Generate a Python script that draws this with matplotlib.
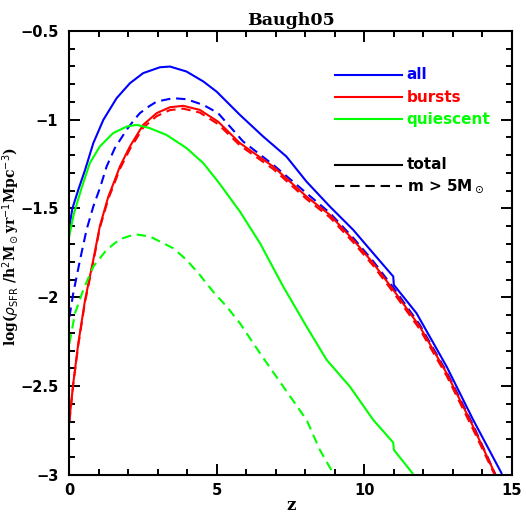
import numpy as np
import matplotlib
matplotlib.use("Agg")
import matplotlib.pyplot as plt
from matplotlib.ticker import MultipleLocator, FuncFormatter

# all (blue) - total and m > 5 Msun
z_all = [0, 0.1, 0.3, 0.53, 0.81, 1.15, 1.6, 2.05, 2.5, 3.07, 3.41, 3.97, 4.54, 4.99,
         5.78, 6.57, 7.36, 8.04, 8.83, 9.62, 10.3, 10.98, 11.0, 11.77, 12.79, 13.69, 14.65]
sfr_all = [-1.60, -1.50, -1.395, -1.283, -1.132, -1.001, -0.879, -0.795, -0.738, -0.705,
           -0.701, -0.729, -0.785, -0.842, -0.973, -1.095, -1.208, -1.349, -1.489, -1.62,
           -1.752, -1.883, -1.93, -2.09, -2.39, -2.69, -2.99]

z_all_m5 = [0, 0.13, 0.36, 0.58, 0.81, 1.05, 1.26, 1.54, 1.94, 2.2, 2.39, 2.7, 2.96, 3.52,
            3.97, 4.54, 5.04, 5.89, 6.91, 8.04, 8.83, 9.62, 10.3, 10.98, 11.88, 12.79,
            13.69, 14.45]
sfr_all_m5 = [-2.11, -1.977, -1.789, -1.62, -1.489, -1.377, -1.264, -1.16, -1.057, -1.0,
              -0.963, -0.925, -0.898, -0.879, -0.885, -0.917, -0.963, -1.123, -1.254,
              -1.414, -1.525, -1.665, -1.797, -1.945, -2.155, -2.42, -2.72, -3.0]

# bursts (red)
z_burst = [0, 0.13, 0.30, 0.53, 0.81, 1.03, 1.32, 1.54, 1.71, 2.05, 2.5, 2.96, 3.41, 3.86,
           4.42, 5.04, 5.78, 6.91, 8.04, 8.83, 9.62, 10.3, 10.98, 11.88, 12.79, 13.69, 14.42]
sfr_burst = [-2.69, -2.484, -2.26, -2.015, -1.789, -1.60, -1.433, -1.339, -1.264, -1.151,
             -1.029, -0.963, -0.930, -0.922, -0.945, -1.011, -1.132, -1.264, -1.433, -1.536,
             -1.676, -1.808, -1.958, -2.165, -2.427, -2.728, -2.99]
sfr_burst_m5 = [-2.70, -2.49, -2.27, -2.025, -1.80, -1.61, -1.445, -1.352, -1.278, -1.166,
                -1.045, -0.980, -0.946, -0.938, -0.960, -1.025, -1.145, -1.278, -1.447,
                -1.550, -1.690, -1.822, -1.972, -2.180, -2.442, -2.745, -3.0]

# quiescent (green)
z_quies = [0, 0.15, 0.41, 0.69, 1.03, 1.48, 1.94, 2.28, 2.73, 3.29, 3.97, 4.54, 5.04,
           5.78, 6.46, 7.25, 8.04, 8.72, 9.51, 10.3, 10.98, 11.0, 11.63]
sfr_quies = [-1.65, -1.53, -1.386, -1.245, -1.151, -1.076, -1.039, -1.029, -1.048, -1.086,
             -1.160, -1.245, -1.349, -1.517, -1.695, -1.94, -2.165, -2.352, -2.503, -2.69,
             -2.818, -2.859, -2.99]

z_quies_m5 = [0, 0.19, 0.47, 0.81, 1.26, 1.71, 2.22, 2.73, 3.07, 3.52, 3.97, 4.42, 4.87,
              5.33, 5.78, 6.46, 7.25, 8.04, 8.49, 8.94]
sfr_quies_m5 = [-2.26, -2.09, -1.958, -1.827, -1.733, -1.673, -1.645, -1.658, -1.686,
                -1.724, -1.789, -1.874, -1.968, -2.052, -2.146, -2.315, -2.503, -2.69,
                -2.859, -2.99]

labels = ["all", "bursts", "quiescent"]
colors = ["#0000ff", "#ff0000", "#00ff00"]

fig = plt.figure(figsize=(5.26, 5.23), dpi=100)
ax = fig.add_axes([0.132, 0.092, 0.841, 0.849])

lw = 1.5
dash = (0, (4.5, 2.8))

ax.plot(z_all, sfr_all, color=colors[0], lw=lw)
ax.plot(z_all_m5, sfr_all_m5, color=colors[0], lw=lw, linestyle=dash)
ax.plot(z_burst, sfr_burst, color=colors[1], lw=lw)
ax.plot(z_burst, sfr_burst_m5, color=colors[1], lw=lw, linestyle=dash)
ax.plot(z_quies, sfr_quies, color=colors[2], lw=lw)
ax.plot(z_quies_m5, sfr_quies_m5, color=colors[2], lw=lw, linestyle=dash)

ax.set_xlim(0, 15)
ax.set_ylim(-3, -0.5)

# ticks on all four sides, pointing in
ax.xaxis.set_major_locator(MultipleLocator(5))
ax.xaxis.set_minor_locator(MultipleLocator(1))
ax.yaxis.set_major_locator(MultipleLocator(0.5))
ax.yaxis.set_minor_locator(MultipleLocator(0.1))
ax.tick_params(which="both", direction="in", top=True, right=True, width=1.4)
ax.tick_params(which="major", length=8, labelsize=10.5)
ax.tick_params(axis="x", which="major", pad=6)
ax.tick_params(axis="y", which="major", pad=8)
ax.tick_params(which="minor", length=4.3)
ax.yaxis.set_major_formatter(FuncFormatter(lambda v, p: ("%g" % v).replace("-", "\u2212")))
for lab in ax.get_xticklabels() + ax.get_yticklabels():
    lab.set_fontweight("bold")
for sp in ax.spines.values():
    sp.set_linewidth(1.5)

ax.set_title("Baugh05", fontsize=12.5, fontweight="bold", family="DejaVu Serif", pad=4)
ax.set_xlabel("z", fontsize=12, fontweight="bold", family="DejaVu Serif", labelpad=-1)
ax.set_ylabel(r"log($\rho_{\rm SFR}$ /h$^2$M$_\odot$yr$^{-1}$Mpc$^{-3}$)",
              fontsize=10, fontweight="bold", family="DejaVu Serif")
ax.yaxis.set_label_coords(-0.108, 0.514)

# legend, drawn by hand so it sits like the original
rows = [0.901, 0.851, 0.801]
for lab, c, yy in zip(labels, colors, rows):
    ax.plot([0.600, 0.751], [yy, yy], color=c, lw=lw, transform=ax.transAxes)
    ax.text(0.762, yy, lab, color=c, fontsize=11, fontweight="bold",
            va="center", ha="left", transform=ax.transAxes)

ax.plot([0.600, 0.751], [0.698, 0.698], color="black", lw=lw, transform=ax.transAxes)
ax.text(0.762, 0.698, "total", color="black", fontsize=11, fontweight="bold",
        va="center", ha="left", transform=ax.transAxes)
ax.plot([0.600, 0.751], [0.651, 0.651], color="black", lw=lw, linestyle=dash,
        transform=ax.transAxes)
ax.text(0.762, 0.651, r"m > 5M$_\odot$", color="black", fontsize=11, fontweight="bold",
        va="center", ha="left", transform=ax.transAxes)

fig.savefig("out.png", dpi=100)
